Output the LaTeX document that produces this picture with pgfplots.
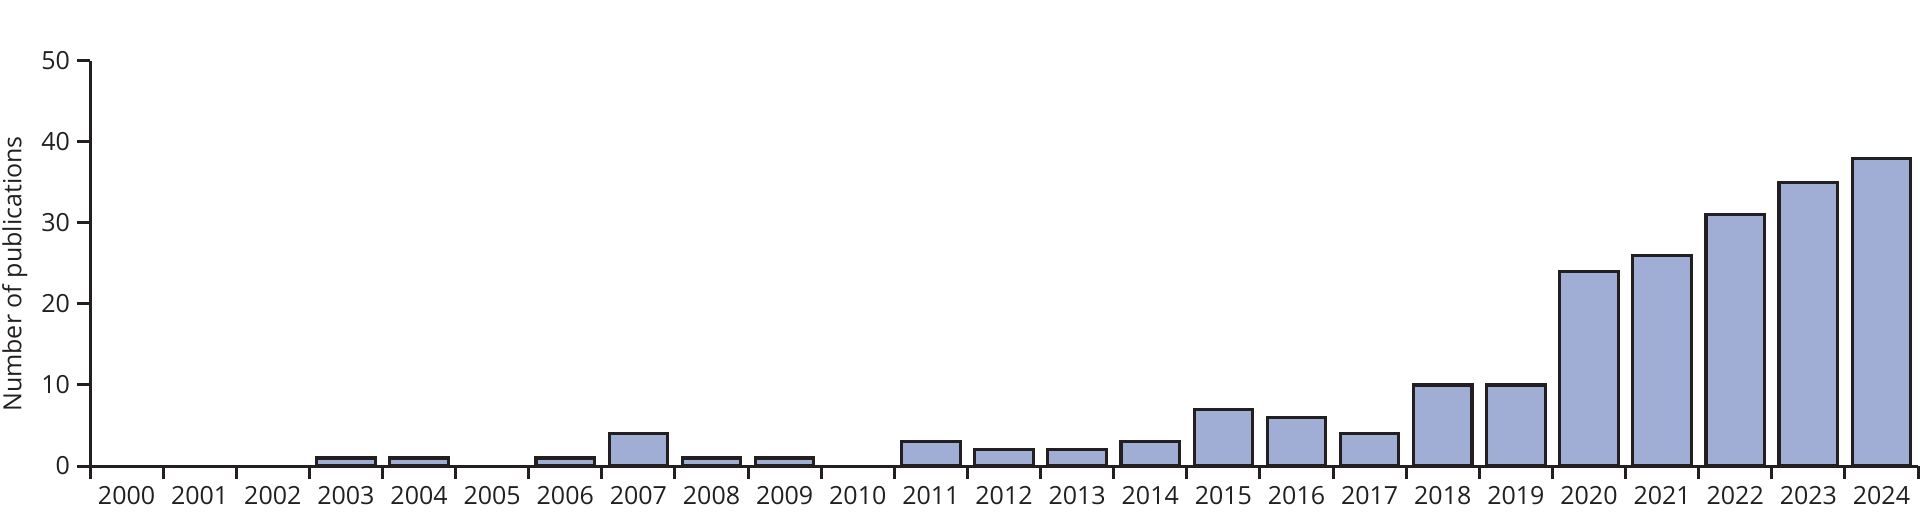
\documentclass[border=0pt]{standalone}
\usepackage{fontspec}
\setmainfont{Open Sans}
\usepackage{pgfplots}
\pgfplotsset{compat=1.18}
\definecolor{barfill}{RGB}{160,174,214}
\definecolor{ink}{RGB}{35,31,32}

\begin{document}
\begin{tikzpicture}
	\begin{axis}[
		scale only axis,
		width=914pt, height=202.5pt,
		xmin=-0.5, xmax=24.5,
		ymin=0, ymax=50,
		axis lines*=left,
		axis line style={ink, line width=1.5pt},
		ybar, bar width=0.8,
		xtick={0,...,24},
		xticklabels={2000,2001,2002,2003,2004,2005,2006,2007,2008,2009,2010,2011,2012,2013,2014,2015,2016,2017,2018,2019,2020,2021,2022,2023,2024},
		minor xtick={-0.5,0.5,...,24.5},
		ytick={0,10,20,30,40,50},
		tick align=outside,
		major tick length=6.5pt,
		minor tick length=6.5pt,
		tick style={ink, line width=1.5pt},
		major x tick style={draw=none},
		tick label style={font=\fontsize{12.5}{15}\selectfont, text=ink},
		/pgf/number format/assume math mode=true,
		ylabel={Number of publications},
		ylabel style={at={(axis description cs:-0.0375,0.474)}, anchor=base,
			inner sep=0pt, font=\fontsize{12.5}{15}\selectfont, text=ink},
		unbounded coords=discard,
		clip=false,
		]
		
		% publications per year (years with none draw no bar)
		\addplot[draw=ink, line width=1.6pt, fill=barfill,
			y filter/.expression={y==0 ? nan : y}] coordinates {
			(0,0) (1,0) (2,0) (3,1) (4,1) (5,0) (6,1) (7,4) (8,1) (9,1)
			(10,0) (11,3) (12,2) (13,2) (14,3) (15,7) (16,6) (17,4) (18,10) (19,10)
			(20,24) (21,26) (22,31) (23,35) (24,38)
		};
		
	\end{axis}
	\pgfresetboundingbox
	\path[use as bounding box] (-45pt,-29pt) rectangle (915pt,233pt);
\end{tikzpicture}
\end{document}
